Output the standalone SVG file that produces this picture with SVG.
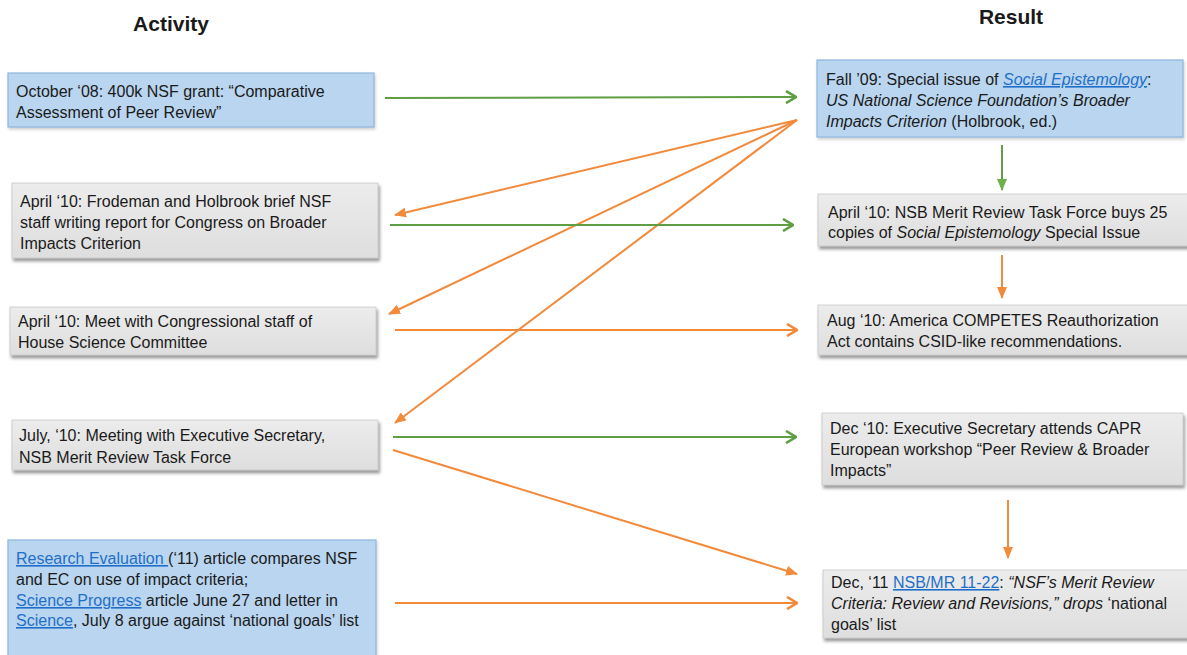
<svg xmlns="http://www.w3.org/2000/svg" width="1187" height="655" viewBox="0 0 1187 655">
<style>
  text { font-family: "Liberation Sans", Arial, sans-serif; font-size: 16px; fill: #1a1a1a; }
  .hdr { font-size: 21px; font-weight: bold; }
  .blue { fill: #b9d5ef; stroke: #8fb7de; stroke-width: 1.2; }
  .gray { fill: url(#gg); stroke: #c8c8c8; stroke-width: 0.8; filter: url(#sh); }
  .bluebox { filter: url(#sh2); }
  .lnk { fill: #1f6fc8; text-decoration: underline; }
  .it { font-style: italic; }
  .g { stroke: #5f9e45; stroke-width: 2; fill: none; }
  .o { stroke: #f28a3c; stroke-width: 2; fill: none; }
</style>
<defs>
  <linearGradient id="gg" x1="0" y1="0" x2="0" y2="1">
    <stop offset="0" stop-color="#ececec"/>
    <stop offset="1" stop-color="#dedede"/>
  </linearGradient>
  <filter id="sh" x="-5%" y="-10%" width="115%" height="130%">
    <feDropShadow dx="1.5" dy="3" stdDeviation="1.5" flood-color="#555" flood-opacity="0.6"/>
  </filter>
  <filter id="sh2" x="-5%" y="-10%" width="115%" height="130%">
    <feDropShadow dx="1" dy="2" stdDeviation="1.5" flood-color="#777" flood-opacity="0.35"/>
  </filter>
  <marker id="gOpen" viewBox="0 0 12 14" refX="11" refY="7" markerWidth="12" markerHeight="14" markerUnits="userSpaceOnUse" orient="auto">
    <path d="M1,1 L11,7 L1,13" fill="none" stroke="#5f9e45" stroke-width="2.6"/>
  </marker>
  <marker id="oOpen" viewBox="0 0 12 14" refX="11" refY="7" markerWidth="12" markerHeight="14" markerUnits="userSpaceOnUse" orient="auto">
    <path d="M1,1 L11,7 L1,13" fill="none" stroke="#f28a3c" stroke-width="2.6"/>
  </marker>
  <marker id="oFill" viewBox="0 0 12 10" refX="11" refY="5" markerWidth="12" markerHeight="10" markerUnits="userSpaceOnUse" orient="auto">
    <path d="M0,0 L12,5 L0,10 Z" fill="#f28a3c"/>
  </marker>
  <marker id="gFill" viewBox="0 0 12 10" refX="11" refY="5" markerWidth="12" markerHeight="10" markerUnits="userSpaceOnUse" orient="auto">
    <path d="M0,0 L12,5 L0,10 Z" fill="#6cb04a"/>
  </marker>
</defs>
<rect width="1187" height="655" fill="#ffffff"/>

<text class="hdr" x="171" y="31" text-anchor="middle">Activity</text>
<text class="hdr" x="1011" y="24" text-anchor="middle">Result</text>

<g id="connectors">
  <line class="g" x1="385" y1="98" x2="796" y2="97" marker-end="url(#gOpen)"/>
  <line class="o" x1="797" y1="120" x2="395" y2="215" marker-end="url(#oFill)"/>
  <line class="o" x1="797" y1="120" x2="389" y2="314" marker-end="url(#oFill)"/>
  <line class="o" x1="797" y1="120" x2="395" y2="423" marker-end="url(#oFill)"/>
  <line class="g" x1="390" y1="225" x2="793" y2="225" marker-end="url(#gOpen)"/>
  <line class="o" x1="395" y1="330" x2="797" y2="330" marker-end="url(#oOpen)"/>
  <line class="g" x1="393" y1="437" x2="796" y2="437" marker-end="url(#gOpen)"/>
  <line class="o" x1="393" y1="450" x2="797" y2="574" marker-end="url(#oFill)"/>
  <line class="o" x1="395" y1="603" x2="797" y2="603" marker-end="url(#oOpen)"/>
  <line class="g" stroke="#6cb04a" x1="1002" y1="145" x2="1002" y2="190" marker-end="url(#gFill)"/>
  <line class="o" x1="1002" y1="255" x2="1002" y2="298" marker-end="url(#oFill)"/>
  <line class="o" x1="1008" y1="500" x2="1008" y2="558" marker-end="url(#oFill)"/>
</g>

<g id="a1">
  <rect class="blue bluebox" x="8" y="73" width="366" height="54"/>
  <text x="16" y="97">October ‘08: 400k NSF grant: “Comparative</text>
  <text x="16" y="118">Assessment of Peer Review”</text>
</g>
<g id="a2">
  <rect class="gray" x="12" y="183" width="366" height="75"/>
  <text x="20" y="207">April ‘10: Frodeman and Holbrook brief NSF</text>
  <text x="20" y="228">staff writing report for Congress on Broader</text>
  <text x="20" y="249">Impacts Criterion</text>
</g>
<g id="a3">
  <rect class="gray" x="10" y="307" width="366" height="48"/>
  <text x="18" y="327">April ‘10: Meet with Congressional staff of</text>
  <text x="18" y="348">House Science Committee</text>
</g>
<g id="a4">
  <rect class="gray" x="12" y="420" width="366" height="50"/>
  <text x="19" y="441">July, ‘10: Meeting with Executive Secretary,</text>
  <text x="19" y="463">NSB Merit Review Task Force</text>
</g>
<g id="a5">
  <rect class="blue bluebox" x="8" y="540" width="368" height="125"/>
  <text x="16" y="564"><tspan class="lnk">Research Evaluation </tspan>(‘11) article compares NSF</text>
  <text x="16" y="585">and EC on use of impact criteria;</text>
  <text x="16" y="606"><tspan class="lnk">Science Progress</tspan>  article June 27 and letter in</text>
  <text x="16" y="626"><tspan class="lnk">Science</tspan>, July 8 argue against ‘national goals’ list</text>
</g>

<g id="r1">
  <rect class="blue bluebox" x="817" y="60" width="366" height="77"/>
  <text x="826" y="85">Fall ’09: Special issue of <tspan class="lnk it">Social Epistemology</tspan>:</text>
  <text x="826" y="106" class="it">US National Science Foundation’s Broader</text>
  <text x="826" y="127"><tspan class="it">Impacts Criterion</tspan> (Holbrook, ed.)</text>
</g>
<g id="r2">
  <rect class="gray" x="818" y="194" width="372" height="52"/>
  <text x="828" y="218">April ‘10: NSB Merit Review Task Force buys 25</text>
  <text x="828" y="238">copies of <tspan class="it">Social Epistemology</tspan> Special Issue</text>
</g>
<g id="r3">
  <rect class="gray" x="818" y="305" width="372" height="50"/>
  <text x="827" y="326">Aug ‘10: America COMPETES Reauthorization</text>
  <text x="827" y="347">Act contains CSID-like recommendations.</text>
</g>
<g id="r4">
  <rect class="gray" x="822" y="413" width="361" height="72"/>
  <text x="830" y="434">Dec ‘10: Executive Secretary attends CAPR</text>
  <text x="830" y="455">European workshop “Peer Review &amp; Broader</text>
  <text x="830" y="476">Impacts”</text>
</g>
<g id="r5">
  <rect class="gray" x="823" y="570" width="367" height="68"/>
  <text x="831" y="588">Dec, ‘11 <tspan class="lnk">NSB/MR 11-22</tspan>: <tspan class="it">“NSF’s Merit Review</tspan></text>
  <text x="831" y="609"><tspan class="it">Criteria: Review and Revisions,” drops </tspan>‘national</text>
  <text x="831" y="630">goals’ list</text>
</g>
</svg>
